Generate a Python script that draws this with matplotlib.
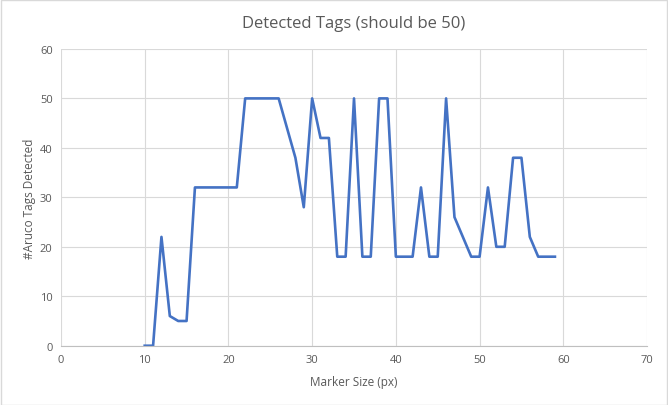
import matplotlib
matplotlib.use('Agg')
import matplotlib.pyplot as plt
from matplotlib.patches import Rectangle

# marker size (px) vs detected tags
marker_size = [10, 11, 12, 13, 14, 15, 16, 17, 18, 19, 20, 21, 22, 23, 24, 25, 26, 27, 28, 29,
               30, 31, 32, 33, 34, 35, 36, 37, 38, 39, 40, 41, 42, 43, 44, 45, 46, 47, 48, 49,
               50, 51, 52, 53, 54, 55, 56, 57, 58, 59]
tags_detected = [0, 0, 22, 6, 5, 5, 32, 32, 32, 32, 32, 32, 50, 50, 50, 50, 50, 44, 38, 28,
                 50, 42, 42, 18, 18, 50, 18, 18, 50, 50, 18, 18, 18, 32, 18, 18, 50, 26, 22, 18,
                 18, 32, 20, 20, 38, 38, 22, 18, 18, 18]

x_ticks = [0, 10, 20, 30, 40, 50, 60, 70]
y_ticks = [0, 10, 20, 30, 40, 50, 60]

plt.rcParams['font.family'] = ['Open Sans', 'DejaVu Sans']
txt = '#595959'

fig = plt.figure(figsize=(6.68, 4.06), dpi=100)
ax = fig.add_axes([0.0913, 0.146, 0.8773, 0.731])

ax.plot(marker_size, tags_detected, color='#4472C4', lw=1.9, solid_joinstyle='round')

ax.set_xlim(0, 70)
ax.set_ylim(0, 60)
ax.set_xticks(x_ticks)
ax.set_yticks(y_ticks)
ax.grid(True, color='#D9D9D9', lw=0.8)
ax.set_axisbelow(True)
for s in ['top', 'right', 'left']:
    ax.spines[s].set_visible(False)
ax.spines['bottom'].set_color('#BFBFBF')
ax.tick_params(length=0, labelsize=8, colors=txt, pad=6)

ax.set_title('Detected Tags (should be 50)', fontsize=12, color=txt, pad=16)
ax.set_xlabel('Marker Size (px)', fontsize=8.5, color=txt, labelpad=7)
ax.set_ylabel('#Aruco Tags Detected', fontsize=8.5, color=txt)
ax.yaxis.set_label_coords(-0.042, 0.5)

# outer chart border
fig.patches.append(Rectangle((0.001, 0.001), 0.997, 0.997, transform=fig.transFigure,
                             fill=False, edgecolor='#D9D9D9', lw=1))

fig.savefig('out.png', dpi=100)
